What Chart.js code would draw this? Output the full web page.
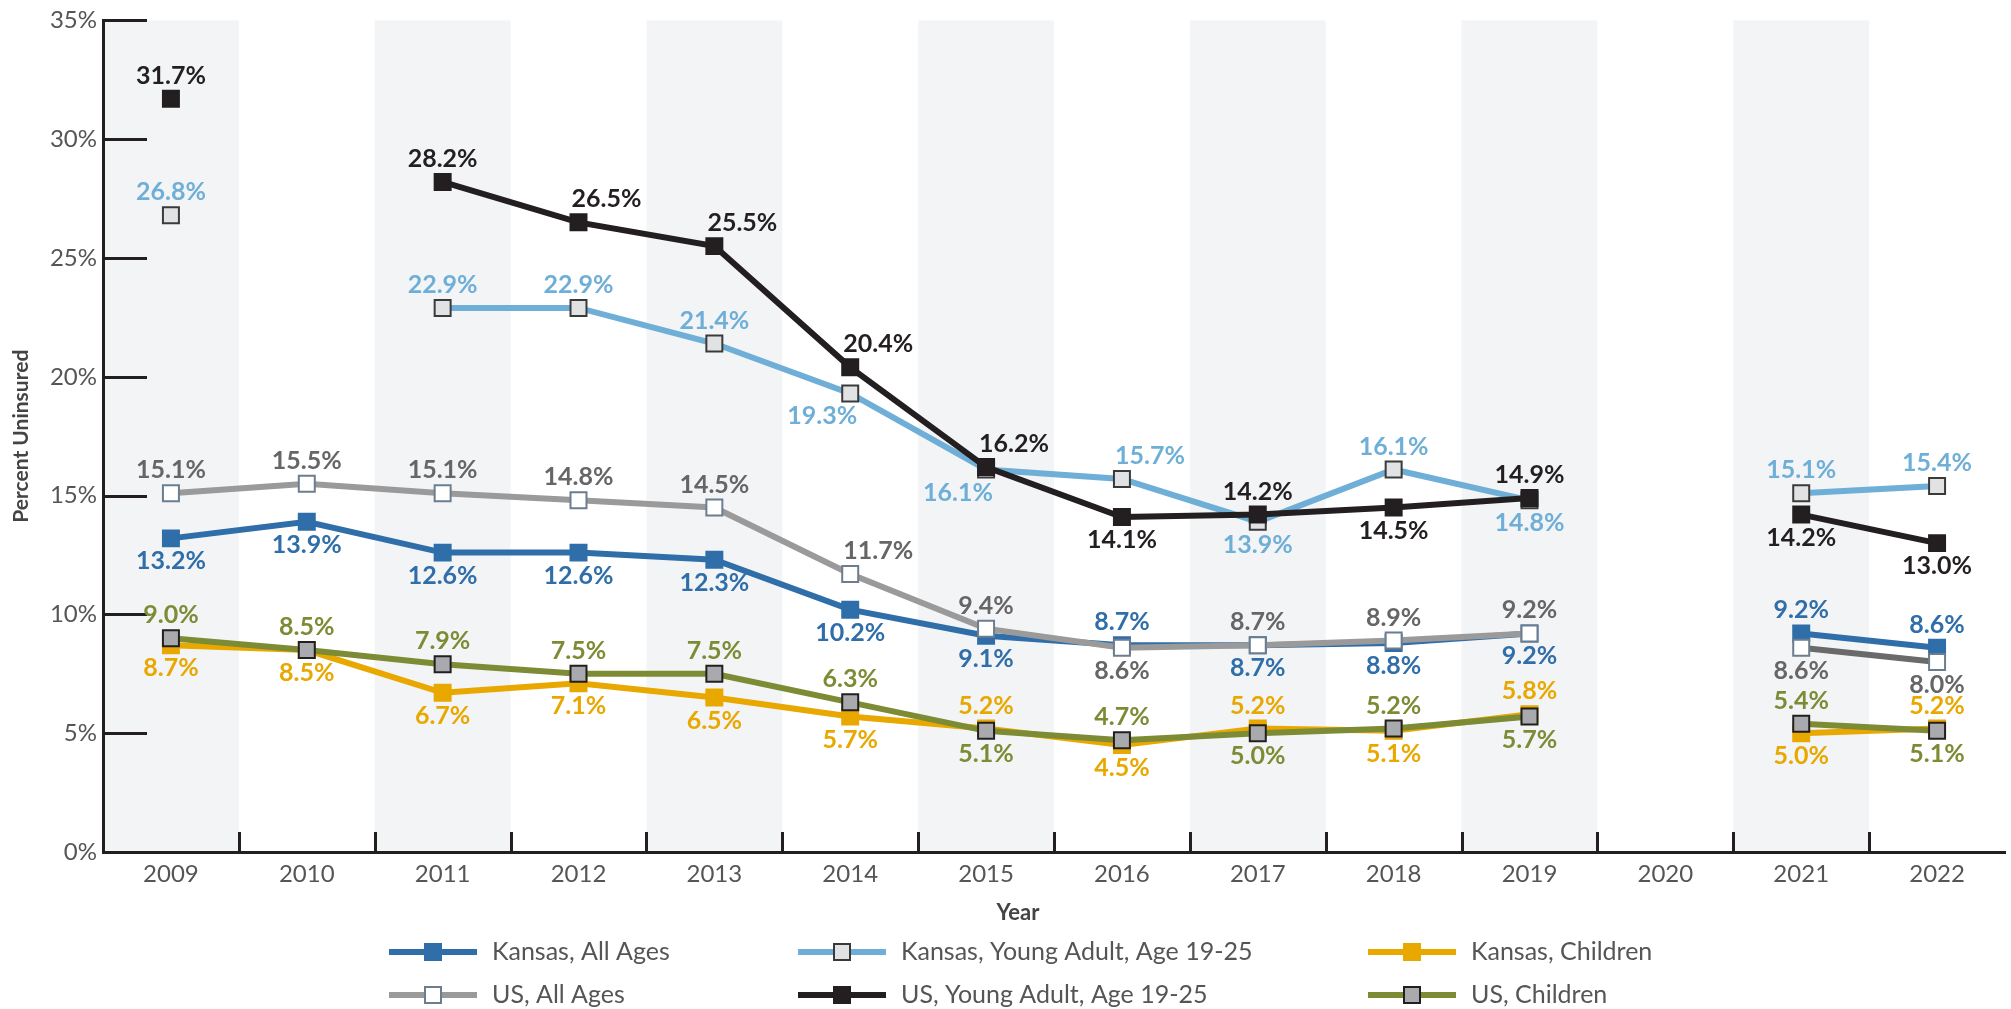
<!DOCTYPE html>
<html>
<head>
<meta charset="utf-8">
<script src="https://cdn.jsdelivr.net/npm/chart.js@4.4.1/dist/chart.umd.min.js"></script>
<style>
  html, body { margin: 0; padding: 0; background: #fff; }
  #wrap { width: 2011px; height: 1009px; position: relative; }
</style>
</head>
<body>
<div id="wrap"><canvas id="chart"></canvas></div>
<script>
const years = ['2009', '2010', '2011', '2012', '2013', '2014', '2015', '2016', '2017', '2018', '2019', '2020', '2021', '2022'];
const yTicks = [0, 5, 10, 15, 20, 25, 30, 35];

const ksAllAges = [13.2, 13.9, 12.6, 12.6, 12.3, 10.2, 9.1, 8.7, 8.7, 8.8, 9.2, null, 9.2, 8.6];
const ksYoungAdult = [26.8, null, 22.9, 22.9, 21.4, 19.3, 16.1, 15.7, 13.9, 16.1, 14.8, null, 15.1, 15.4];
const ksChildren = [8.7, 8.5, 6.7, 7.1, 6.5, 5.7, 5.2, 4.5, 5.2, 5.1, 5.8, null, 5.0, 5.2];
const usAllAges = [15.1, 15.5, 15.1, 14.8, 14.5, 11.7, 9.4, 8.6, 8.7, 8.9, 9.2, null, 8.6, 8.0];
const usYoungAdult = [31.7, null, 28.2, 26.5, 25.5, 20.4, 16.2, 14.1, 14.2, 14.5, 14.9, null, 14.2, 13.0];
const usChildren = [9.0, 8.5, 7.9, 7.5, 7.5, 6.3, 5.1, 4.7, 5.0, 5.2, 5.7, null, 5.4, 5.1];

// where each value label sits: a = above, b = below, l/r = nudged sideways
const ksAllPos = ['b', 'b', 'b', 'b', 'b', 'b', 'b', 'a', 'b', 'b', 'b', null, 'a', 'a'];
const ksYoungPos = ['a', null, 'a', 'a', 'a', 'bl', 'bl', 'ar', 'b', 'a', 'b', null, 'a', 'a'];
const ksChildPos = ['b', 'b', 'b', 'b', 'b', 'b', 'a', 'b', 'a', 'b', 'a', null, 'b', 'a'];
const usAllPos = ['a', 'a', 'a', 'a', 'a', 'ar', 'a', 'b', 'a', 'a', 'a', null, 'b', 'b'];
const usYoungPos = ['a', null, 'a', 'ar', 'ar', 'ar', 'ar', 'b', 'a', 'b', 'a', null, 'b', 'b'];
const usChildPos = ['a', 'a', 'a', 'a', 'a', 'a', 'b', 'a', 'b', 'a', 'b', null, 'a', 'b'];

const FONT = 'Lato, "Noto Sans", sans-serif';
const AXIS = '#231f20';

function series(label, data, color, fill, edge, labelColor, pos, order) {
  return {
    label: label,
    data: data,
    borderColor: color,
    backgroundColor: color,
    borderWidth: 6,
    pointStyle: 'rect',
    pointRadius: 11.3,
    pointHoverRadius: 11.3,
    pointBackgroundColor: fill,
    pointBorderColor: edge,
    pointBorderWidth: 2,
    spanGaps: false,
    tension: 0,
    order: order,
    labelColor: labelColor,
    labelPos: pos
  };
}

const datasets = [
  series('Kansas, All Ages', ksAllAges, '#2f6ea9', '#2f6ea9', '#2f6ea9', '#2f6ea9', ksAllPos, 3),
  series('Kansas, Young Adult, Age 19-25', ksYoungAdult, '#6fafd7', '#e1e2e4', '#3a3a3a', '#6fafd7', ksYoungPos, 4),
  series('Kansas, Children', ksChildren, '#e8a800', '#e8a800', '#e8a800', '#e8a800', ksChildPos, 5),
  series('US, All Ages', usAllAges, '#9a9a9a', '#ffffff', '#6b7d8e', '#666666', usAllPos, 1),
  series('US, Young Adult, Age 19-25', usYoungAdult, '#231f20', '#231f20', '#231f20', '#231f20', usYoungPos, 0),
  series('US, Children', usChildren, '#7e8b35', '#a9aaad', '#231f20', '#7e8b35', usChildPos, 2)
];
datasets[3].segment = { borderColor: ctx => ctx.p0DataIndex === 12 ? '#6a6a6a' : undefined };

const bandPlugin = {
  id: 'bands',
  beforeDraw(chart) {
    const { ctx, chartArea, scales } = chart;
    const x = scales.x;
    const w = x.getPixelForValue(1) - x.getPixelForValue(0);
    ctx.save();
    ctx.fillStyle = '#f3f4f6';
    years.forEach((y, i) => {
      if (i % 2 === 0) {
        const cx = x.getPixelForValue(i);
        ctx.fillRect(cx - w / 2, chartArea.top, w, chartArea.bottom - chartArea.top);
      }
    });
    ctx.restore();
  }
};

const tickPlugin = {
  id: 'innerTicks',
  beforeDatasetsDraw(chart) {
    const { ctx, chartArea, scales } = chart;
    ctx.save();
    ctx.strokeStyle = AXIS;
    ctx.lineWidth = 3;
    ctx.beginPath();
    yTicks.forEach(v => {
      const py = Math.round(scales.y.getPixelForValue(v)) + 0.5;
      ctx.moveTo(chartArea.left, py);
      ctx.lineTo(chartArea.left + 44, py);
    });
    const w = scales.x.getPixelForValue(1) - scales.x.getPixelForValue(0);
    for (let i = 1; i < years.length; i++) {
      const px = Math.round(scales.x.getPixelForValue(i) - w / 2) + 0.5;
      ctx.moveTo(px, chartArea.bottom);
      ctx.lineTo(px, chartArea.bottom - 20);
    }
    ctx.stroke();
    // x axis title, sits a little left of the plot centre
    ctx.fillStyle = '#444444';
    ctx.font = 'bold 22px ' + FONT;
    ctx.textAlign = 'center';
    ctx.textBaseline = 'middle';
    ctx.fillText('Year', 1018, 913);
    ctx.restore();
  }
};

const labelPlugin = {
  id: 'valueLabels',
  afterDatasetsDraw(chart) {
    const ctx = chart.ctx;
    ctx.save();
    ctx.font = 'bold 25px ' + FONT;
    ctx.textAlign = 'center';
    ctx.textBaseline = 'middle';
    chart.data.datasets.forEach((ds, di) => {
      const meta = chart.getDatasetMeta(di);
      ctx.fillStyle = ds.labelColor;
      meta.data.forEach((pt, i) => {
        const v = ds.data[i];
        const pos = ds.labelPos[i];
        if (v === null || !pos) return;
        let dy = pos[0] === 'a' ? -23 : 23;
        let dx = 0;
        if (pos[1] === 'l') dx = -28;
        if (pos[1] === 'r') dx = 28;
        ctx.fillText(v.toFixed(1) + '%', pt.x + dx, pt.y + dy);
      });
    });
    ctx.restore();
  }
};

const legendPlugin = {
  id: 'gridLegend',
  afterDraw(chart) {
    const ctx = chart.ctx;
    const cols = [389, 798, 1368];
    const rows = [952, 995];
    ctx.save();
    ctx.font = '25px ' + FONT;
    ctx.textBaseline = 'middle';
    ctx.textAlign = 'left';
    chart.data.datasets.forEach((ds, i) => {
      const x = cols[i % 3];
      const y = rows[Math.floor(i / 3)];
      ctx.strokeStyle = ds.borderColor;
      ctx.lineWidth = 6;
      ctx.beginPath();
      ctx.moveTo(x, y);
      ctx.lineTo(x + 88, y);
      ctx.stroke();
      ctx.fillStyle = ds.pointBackgroundColor;
      ctx.fillRect(x + 36, y - 8, 16, 16);
      ctx.strokeStyle = ds.pointBorderColor;
      ctx.lineWidth = 2;
      ctx.strokeRect(x + 36, y - 8, 16, 16);
      ctx.fillStyle = '#555555';
      ctx.fillText(ds.label, x + 103, y);
    });
    ctx.restore();
  }
};

new Chart(document.getElementById('chart'), {
  type: 'line',
  data: { labels: years, datasets: datasets },
  options: {
    responsive: true,
    maintainAspectRatio: false,
    devicePixelRatio: 1,
    animation: false,
    layout: { autoPadding: false, padding: { top: 16, right: 6, bottom: 75, left: 0 } },
    plugins: {
      legend: { display: false },
      tooltip: { enabled: false }
    },
    scales: {
      x: {
        offset: true,
        grid: { display: false, drawTicks: false },
        border: { display: true, color: AXIS, width: 3 },
        ticks: { color: '#555555', font: { family: FONT, size: 24 }, padding: 8 },
        afterFit: s => { s.height = 82; }
      },
      y: {
        min: 0,
        max: 35,
        afterBuildTicks: s => { s.ticks = yTicks.map(v => ({ value: v })); },
        grid: { display: false, drawTicks: false },
        border: { display: true, color: AXIS, width: 3 },
        ticks: { color: '#555555', font: { family: FONT, size: 24 }, padding: 6, callback: v => v + '%' },
        title: { display: true, text: 'Percent Uninsured', color: '#444444', font: { family: FONT, size: 21, weight: 'bold' }, padding: { top: 9, bottom: 4 } },
        afterFit: s => { s.width = 103; }
      }
    }
  },
  plugins: [bandPlugin, tickPlugin, labelPlugin, legendPlugin]
});
</script>
</body>
</html>
